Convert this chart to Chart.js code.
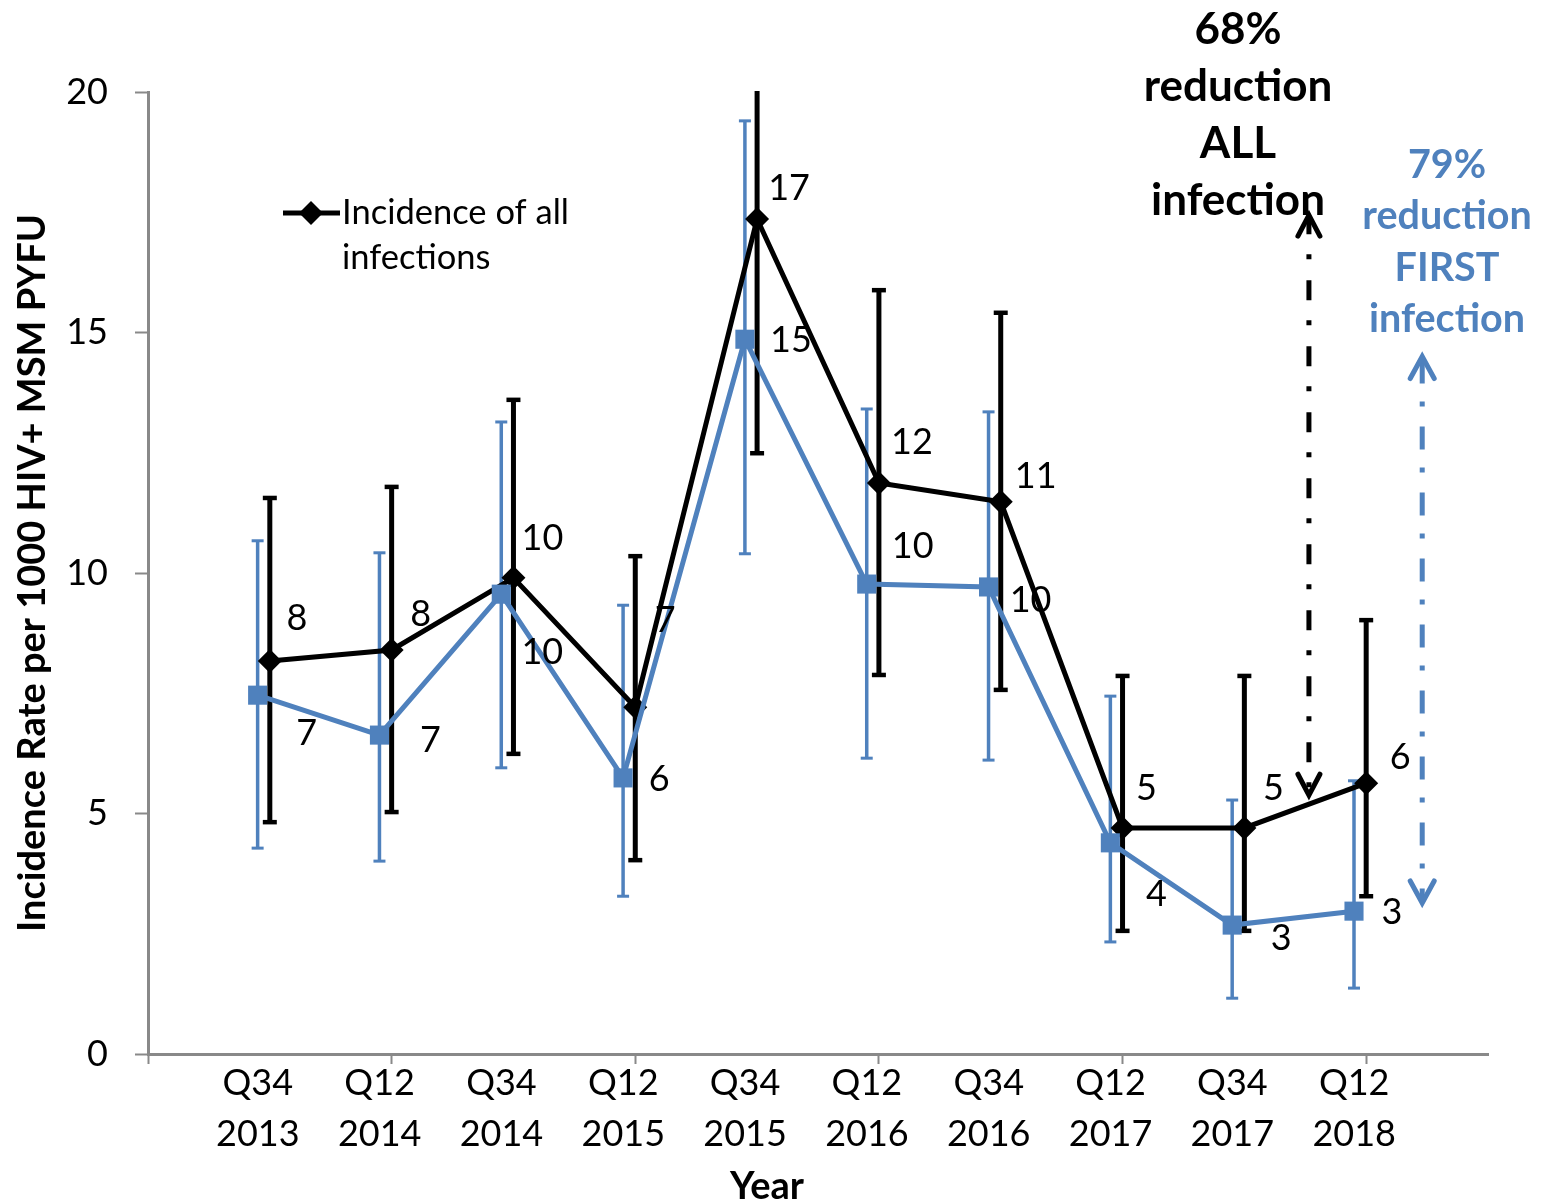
<!DOCTYPE html>
<html>
<head>
<meta charset="utf-8">
<title>Incidence rate per 1000 HIV+ MSM PYFU</title>
<script src="https://cdn.jsdelivr.net/npm/chart.js@4/dist/chart.umd.min.js"></script>
<style>
  html, body { margin: 0; padding: 0; background: #ffffff; }
  #wrap { width: 1541px; height: 1204px; }
</style>
</head>
<body>
<div id="wrap"><canvas id="chart" width="1541" height="1204"></canvas></div>
<script>
// Half-year periods on the x axis
const periods = [
  ['Q34', '2013'], ['Q12', '2014'], ['Q34', '2014'], ['Q12', '2015'], ['Q34', '2015'],
  ['Q12', '2016'], ['Q34', '2016'], ['Q12', '2017'], ['Q34', '2017'], ['Q12', '2018']
];

// Incidence of all infections (rate, 95% CI)
const allRate  = [8.17, 8.40, 9.90, 7.21, 17.36, 11.87, 11.48, 4.70, 4.70, 5.63];
const allLower = [4.82, 5.03, 6.24, 4.03, 12.49, 7.88, 7.57, 2.56, 2.56, 3.28];
const allUpper = [11.56, 11.79, 13.60, 10.35, 22.60, 15.88, 15.41, 7.86, 7.86, 9.02];

// Incidence of first infections (rate, 95% CI)
const firstRate  = [7.46, 6.63, 9.56, 5.74, 14.86, 9.77, 9.71, 4.39, 2.68, 2.97];
const firstLower = [4.28, 4.01, 5.95, 3.28, 10.40, 6.15, 6.11, 2.33, 1.16, 1.37];
const firstUpper = [10.67, 10.42, 13.14, 9.33, 19.40, 13.41, 13.35, 7.44, 5.28, 5.68];

// Y axis ticks
const yTicks = [0, 5, 10, 15, 20];

// ---- styling ----
const FONT = 'Lato, "Open Sans", sans-serif';
const BLUE = '#4F81BD';
const AXIS_GREY = '#898989';
const FIRST_SHIFT = -0.1;   // first-infection series sits slightly left of the period slot

// value-label nudges in px from each point (dx, dy)
const allLabelShift = [[27,-43],[29,-36],[29,-39],[30,-87],[32,-31],[33,-41],[35,-25],[24,-40],[29,-40],[34,-26]];
const firstLabelShift = [[49,38],[51,5],[41,58],[36,1],[46,1],[46,-38],[42,13],[46,52],[49,13],[38,1]];

const errorBars = [
  { lower: firstLower, upper: firstUpper, width: 3.5, cap: 6, capWidth: 3 },
  { lower: allLower, upper: allUpper, width: 5, cap: 7, capWidth: 4.5 }
];
const valueLabels = [firstLabelShift, allLabelShift];

// Error bars, drawn underneath the lines
const errorBarPlugin = {
  id: 'errorBars',
  beforeDatasetsDraw(chart) {
    const { ctx, chartArea, scales } = chart;
    ctx.save();
    ctx.beginPath();
    ctx.rect(chartArea.left, chartArea.top - 1, chartArea.right - chartArea.left, chartArea.bottom - chartArea.top + 2);
    ctx.clip();
    chart.data.datasets.forEach((ds, di) => {
      const eb = errorBars[di];
      const meta = chart.getDatasetMeta(di);
      ctx.strokeStyle = ds.borderColor;
      meta.data.forEach((pt, i) => {
        const x = pt.x;
        const yLo = scales.y.getPixelForValue(eb.lower[i]);
        const yHi = scales.y.getPixelForValue(eb.upper[i]);
        ctx.lineWidth = eb.width;
        ctx.lineCap = 'butt';
        ctx.beginPath();
        ctx.moveTo(x, yLo);
        ctx.lineTo(x, yHi);
        ctx.stroke();
        ctx.lineWidth = eb.capWidth;
        [yLo, yHi].forEach(y => {
          ctx.beginPath();
          ctx.moveTo(x - eb.cap, y);
          ctx.lineTo(x + eb.cap, y);
          ctx.stroke();
        });
      });
    });
    ctx.restore();
  }
};

// Rounded value labels next to each point
const valueLabelPlugin = {
  id: 'valueLabels',
  afterDatasetsDraw(chart) {
    const { ctx } = chart;
    ctx.save();
    ctx.font = '36px ' + FONT;
    ctx.fillStyle = '#000';
    ctx.textAlign = 'center';
    ctx.textBaseline = 'middle';
    chart.data.datasets.forEach((ds, di) => {
      const meta = chart.getDatasetMeta(di);
      meta.data.forEach((pt, i) => {
        const [dx, dy] = valueLabels[di][i];
        ctx.fillText(String(Math.round(ds.data[i].y)), pt.x + dx, pt.y + dy);
      });
    });
    ctx.restore();
  }
};

function chevron(ctx, x, y, dir, half, len) {
  ctx.beginPath();
  ctx.moveTo(x - half, y + dir * len);
  ctx.lineTo(x, y);
  ctx.lineTo(x + half, y + dir * len);
  ctx.stroke();
}

// Reduction arrows, their captions, the legend entry and the x title
const annotationPlugin = {
  id: 'annotations',
  afterDraw(chart) {
    const { ctx, scales } = chart;
    const xs = scales.x, ys = scales.y;
    ctx.save();

    // legend entry for the all-infections series
    ctx.strokeStyle = '#000';
    ctx.lineWidth = 5;
    ctx.beginPath();
    ctx.moveTo(283, 213);
    ctx.lineTo(340, 213);
    ctx.stroke();
    ctx.fillStyle = '#000';
    ctx.beginPath();
    ctx.moveTo(299, 213); ctx.lineTo(311, 201); ctx.lineTo(323, 213); ctx.lineTo(311, 225);
    ctx.closePath();
    ctx.fill();
    ctx.font = '34.5px ' + FONT;
    ctx.textAlign = 'left';
    ctx.textBaseline = 'middle';
    ctx.fillText('Incidence of all', 342, 213);
    ctx.fillText('infections', 342, 258);

    // 68% arrow (all infections)
    const ax = xs.getPixelForValue(9.53);
    const aTop = ys.getPixelForValue(17.44);
    const aBot = ys.getPixelForValue(5.38);
    ctx.lineWidth = 5;
    ctx.lineCap = 'butt';
    ctx.setLineDash([20, 20, 5, 21]);
    ctx.lineDashOffset = 5;
    ctx.beginPath();
    ctx.moveTo(ax, aTop + 4);
    ctx.lineTo(ax, aBot - 4);
    ctx.stroke();
    ctx.setLineDash([]);
    ctx.lineCap = 'round';
    ctx.lineJoin = 'miter';
    chevron(ctx, ax, aTop, 1, 11, 21);
    chevron(ctx, ax, aBot, -1, 11, 21);

    // 79% arrow (first infections)
    const bx = xs.getPixelForValue(10.46);
    const bTop = ys.getPixelForValue(14.5);
    const bBot = ys.getPixelForValue(3.14);
    ctx.strokeStyle = BLUE;
    ctx.lineCap = 'butt';
    ctx.setLineDash([23, 18, 5, 20]);
    ctx.lineDashOffset = 0;
    ctx.beginPath();
    ctx.moveTo(bx, bTop + 4);
    ctx.lineTo(bx, bBot - 4);
    ctx.stroke();
    ctx.setLineDash([]);
    ctx.lineCap = 'round';
    chevron(ctx, bx, bTop, 1, 12, 22);
    chevron(ctx, bx, bBot, -1, 12, 22);

    // captions
    ctx.textAlign = 'center';
    ctx.fillStyle = '#000';
    ctx.font = 'bold 44px ' + FONT;
    ['68%', 'reduction', 'ALL', 'infection'].forEach((t, i) => ctx.fillText(t, 1238, 30 + i * 57));
    ctx.fillStyle = BLUE;
    ctx.font = 'bold 39.5px ' + FONT;
    ['79%', 'reduction', 'FIRST', 'infection'].forEach((t, i) => ctx.fillText(t, 1447, 165 + i * 51.5));

    // x axis title
    ctx.fillStyle = '#000';
    ctx.font = 'bold 38px ' + FONT;
    ctx.fillText('Year', 767, 1187);
    ctx.restore();
  }
};

new Chart(document.getElementById('chart'), {
  type: 'line',
  data: {
    datasets: [
      {
        label: 'Incidence of first infections',
        data: firstRate.map((v, i) => ({ x: i + 1 + FIRST_SHIFT, y: v })),
        borderColor: BLUE,
        backgroundColor: BLUE,
        borderWidth: 5,
        pointStyle: 'rect',
        pointRadius: 13.5,
        pointBorderWidth: 0,
        pointHoverRadius: 13.5,
        tension: 0
      },
      {
        label: 'Incidence of all infections',
        data: allRate.map((v, i) => ({ x: i + 1, y: v })),
        borderColor: '#000000',
        backgroundColor: '#000000',
        borderWidth: 5,
        pointStyle: 'rectRot',
        pointRadius: 12,
        pointBorderWidth: 0,
        pointHoverRadius: 12,
        tension: 0
      }
    ]
  },
  options: {
    responsive: false,
    animation: false,
    devicePixelRatio: 1,
    events: [],
    layout: { padding: { top: 92, right: 53, left: 0, bottom: 0 } },
    plugins: { legend: { display: false }, tooltip: { enabled: false } },
    scales: {
      x: {
        type: 'linear',
        min: 0,
        max: 11,
        afterBuildTicks: (scale) => {
          scale.ticks = Array.from({ length: 12 }, (_, v) => ({ value: v }));
        },
        afterFit: (scale) => { scale.height = 150; },
        ticks: {
          autoSkip: false,
          maxRotation: 0,
          color: '#000',
          font: { family: FONT, size: 36, lineHeight: 1.42 },
          padding: -6,
          labelOffset: -12,
          callback: (v) => (v >= 1 && v <= periods.length ? periods[v - 1] : '')
        },
        grid: {
          drawOnChartArea: false,
          tickLength: 10,
          tickWidth: 2,
          tickColor: (ctx) => (ctx.tick && ctx.tick.value % 2 === 0 ? AXIS_GREY : 'rgba(0,0,0,0)')
        },
        border: { color: AXIS_GREY, width: 3 }
      },
      y: {
        min: 0,
        max: 20,
        afterBuildTicks: (scale) => { scale.ticks = yTicks.map(v => ({ value: v })); },
        afterFit: (scale) => { scale.width = 148; },
        ticks: {
          color: '#000',
          font: { family: FONT, size: 36 },
          padding: 27
        },
        grid: { drawOnChartArea: false, tickLength: 13, tickWidth: 2, tickColor: AXIS_GREY },
        border: { color: AXIS_GREY, width: 3 },
        title: {
          display: true,
          text: 'Incidence Rate per 1000 HIV+ MSM PYFU',
          color: '#000',
          font: { family: FONT, size: 38, weight: 'bold' },
          padding: { top: 10, bottom: 0 }
        }
      }
    }
  },
  plugins: [errorBarPlugin, valueLabelPlugin, annotationPlugin]
});
</script>
</body>
</html>
